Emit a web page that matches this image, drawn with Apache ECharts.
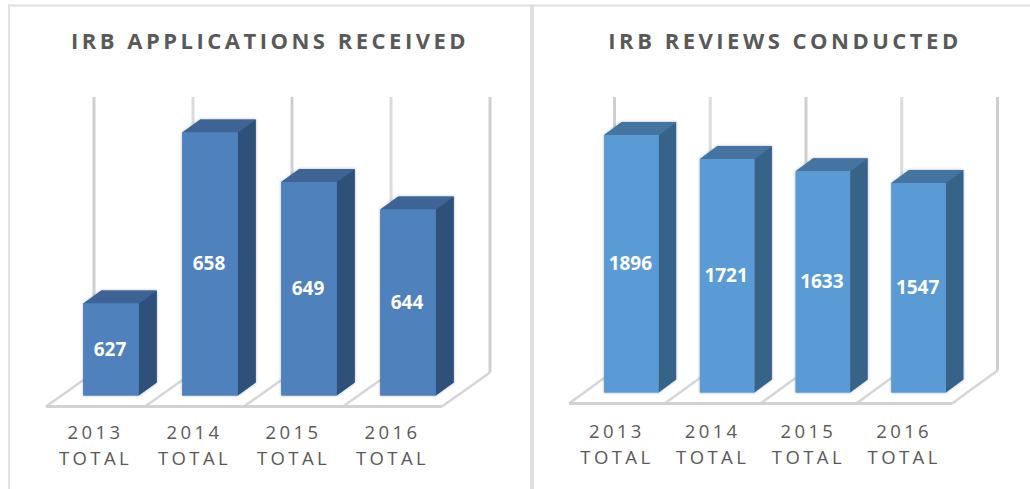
<!DOCTYPE html>
<html><head><meta charset="utf-8">
<script src="https://cdn.jsdelivr.net/npm/echarts@6/dist/echarts.min.js"></script>
<style>
html,body{margin:0;padding:0;background:#fff}
#c{width:1030px;height:489px}
/* letter spacing by text role, keyed on font size */
#c text[style*="22px"]{letter-spacing:3.5px}
#c text[style*="18.5px"]{letter-spacing:3.4px}
</style></head><body><div id="c"></div>
<script>
const categories = ['2013\nTOTAL','2014\nTOTAL','2015\nTOTAL','2016\nTOTAL'];
const applications = [627, 658, 649, 644];
const reviews = [1896, 1721, 1633, 1547];
const titles = ['IRB APPLICATIONS RECEIVED','IRB REVIEWS CONDUCTED'];

const chart = echarts.init(document.getElementById('c'), null, {renderer:'svg'});
const FONT = '"Open Sans", sans-serif';
const GRID = '#d6d6d6';

function frameSeries(gridIndex, back){
  return {
    type:'custom', xAxisIndex:gridIndex, yAxisIndex:gridIndex, silent:true, z:1,
    data:[[0, 0]], clip:false,
    renderItem(params, api){
      const cs = params.coordSys, band = cs.width/categories.length;
      const base = cs.y + cs.height, front = base + back.drop;
      const ch = [];
      for(let k=0;k<=categories.length;k++){
        const x = cs.x + k*band;
        ch.push({type:'line',shape:{x1:x,y1:front,x2:x+back.dx,y2:front-back.dy},style:{stroke:GRID,lineWidth:2.5}});
        ch.push({type:'line',shape:{x1:x+back.dx,y1:front-back.dy,x2:x+back.dx,y2:back.top},style:{stroke:k%2?'#dcdcdc':'#cfcfcf',lineWidth:3}});
      }
      ch.push({type:'line',shape:{x1:cs.x,y1:front,x2:cs.x+cs.width,y2:front},style:{stroke:'#d2d2d2',lineWidth:3}});
      return {type:'group',children:ch};
    }
  };
}

function barSeries(gridIndex, values, col, geo){
  return {
    type:'custom', xAxisIndex:gridIndex, yAxisIndex:gridIndex, silent:true, z:2,
    data:values.map((v,i)=>[i,v]), encode:{x:0,y:1}, clip:false,
    renderItem(params, api){
      const val = api.value(1);
      const top = api.coord([api.value(0), val]);
      const cs = params.coordSys, base = cs.y + cs.height;
      const x0 = top[0] + geo.shift - geo.w/2, x1 = x0 + geo.w, y = top[1];
      const dx = geo.dx, dy = geo.dy;
      return {type:'group',children:[
        {type:'polygon',shape:{points:[[x0,base],[x0,y],[x0+dx,y-dy],[x1+dx,y-dy],[x1+dx,base-dy],[x1,base]]},
          style:{fill:col.front,shadowBlur:3,shadowColor:'rgba(0,0,0,0.3)',shadowOffsetX:0,shadowOffsetY:0}},
        {type:'polygon',shape:{points:[[x0,y],[x0+dx,y-dy],[x1+dx,y-dy],[x1,y]]},style:{fill:col.top}},
        {type:'polygon',shape:{points:[[x1,y],[x1+dx,y-dy],[x1+dx,base-dy],[x1,base]]},style:{fill:col.side}},
        {type:'rect',shape:{x:x0,y:y,width:geo.w,height:base-y},style:{fill:col.front}},
        {type:'text',style:{x:(x0+x1)/2-1,y:(y+base)/2-0.5,text:String(val),fill:'#fff',font:'bold 19px '+FONT,align:'center',verticalAlign:'middle'}}
      ]};
    }
  };
}

function axisBase(gridIndex, margin){
  return {
    gridIndex, type:'category', data:categories,
    axisLine:{show:false}, axisTick:{show:false},
    axisLabel:{interval:0,color:'#595959',fontFamily:FONT,fontSize:18.5,lineHeight:26,margin}
  };
}
const valBase = {type:'value',show:false,splitLine:{show:false}};

const unitsL = 5.516, unitsR = 0.1375;
chart.setOption({
  animation:false,
  backgroundColor:'#fff',
  title:[
    {text:titles[0],left:265,top:24,textAlign:'center',textStyle:{color:'#595959',fontFamily:FONT,fontWeight:'bold',fontSize:22}},
    {text:titles[1],left:780,top:24,textAlign:'center',textStyle:{color:'#595959',fontFamily:FONT,fontWeight:'bold',fontSize:22}}
  ],
  grid:[
    {left:46,width:396,top:94,height:301.5},
    {left:569,width:383,top:94,height:298.5}
  ],
  xAxis:[axisBase(0,23),axisBase(1,24.5)],
  yAxis:[
    Object.assign({gridIndex:0,min:610.3,max:610.3+301.5/unitsL},valBase),
    Object.assign({gridIndex:1,min:23,max:23+298.5/unitsR},valBase)
  ],
  graphic:[
    {type:'rect',shape:{x:8,y:4.5,width:1022,height:2},style:{fill:'#dedede'},silent:true},
    {type:'rect',shape:{x:8,y:5,width:2,height:484},style:{fill:'#e2e2e2'},silent:true},
    {type:'rect',shape:{x:530,y:5,width:4,height:484},style:{fill:'#dedede'},silent:true}
  ],
  series:[
    frameSeries(0,{dx:48,dy:34,drop:11,top:97}),
    barSeries(0,applications,{front:'#4f81bd',top:'#3d6495',side:'#2f5079'},{w:55.5,shift:15.5,dx:18,dy:13}),
    frameSeries(1,{dx:45.5,dy:33,drop:11,top:97}),
    barSeries(1,reviews,{front:'#5b9bd5',top:'#44749f',side:'#386389'},{w:54.5,shift:14.5,dx:17.5,dy:13})
  ]
});
</script></body></html>
